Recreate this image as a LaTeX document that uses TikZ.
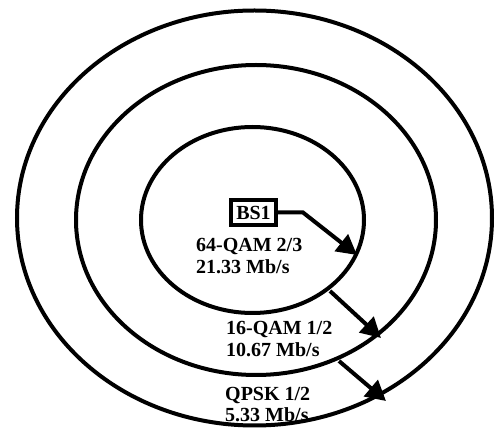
\documentclass[tikz,border=0pt]{standalone}
\usepackage{fontspec}
\setmainfont{Liberation Serif}
\usetikzlibrary{arrows.meta}
\tikzset{
  ring/.style={draw=black, line width=4pt},
  bsbox/.style={draw=black, line width=4pt, minimum width=45pt, minimum height=25pt, inner sep=0pt, font=\fontsize{20}{22}\selectfont\bfseries},
  lbl/.style={anchor=base west, inner sep=0pt, font=\fontsize{20}{22}\selectfont\bfseries},
  link/.style={draw=black, line width=4pt, -{Triangle[length=20pt,width=21pt]}}
}
\begin{document}
\begin{tikzpicture}[x=1pt,y=-1pt]
\useasboundingbox (0,0) rectangle (496,430);
% rings
\draw[ring] (254.5,218) ellipse [x radius=237.5, y radius=207.5];
\draw[ring] (256,220) ellipse [x radius=180, y radius=155];
\draw[ring] (252.5,220) ellipse [x radius=111.5, y radius=93];
% base station
\node[bsbox] (bs) at (253.5,212.5) {BS1};
% connector points
\coordinate (bend) at (303,212.5);
\coordinate (t1) at (357,255);
\coordinate (s2) at (330,291);
\coordinate (t2) at (381,338);
\coordinate (s3) at (339,361);
\coordinate (t3) at (386,401);
\draw[link] (bs.east) -- (bend) -- (t1);
\draw[link] (s2) -- (t2);
\draw[link] (s3) -- (t3);
% labels
\node[lbl] (l1a) at (196,252) {64-QAM 2/3};
\node[lbl] (l1b) at (196,274) {21.33 Mb/s};
\node[lbl] (l2a) at (226,335) {16-QAM 1/2};
\node[lbl] (l2b) at (226,357) {10.67 Mb/s};
\node[lbl] (l3a) at (225,401) {QPSK 1/2};
\node[lbl] (l3b) at (225,422) {5.33 Mb/s};
\end{tikzpicture}
\end{document}
